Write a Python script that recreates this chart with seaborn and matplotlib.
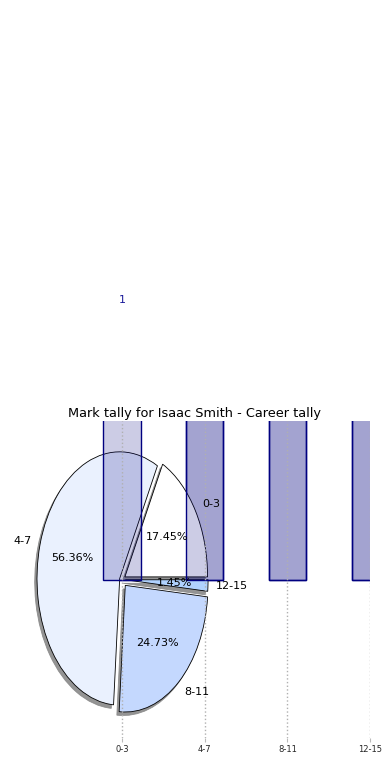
import matplotlib
matplotlib.use("Agg")
import matplotlib.pyplot as plt
import seaborn as sns

# data
intervals = ["0-3", "4-7", "8-11", "12-15"]
pie_counts = [48, 155, 68, 4]          # 17.45%, 56.36%, 24.73%, 1.45%
tally_back = [0, 155, 68, 4]           # bars drawn under the pie
tally_front = [48, 155, 68, 4]         # bars drawn over the pie
pie_colors = ["#ffffff", "#eaf1fe", "#c4d8fe", "#b0d2fe"]
pie_explode = [0.04, 0.03, 0.06, 0.04]
top_label = "1"

sns.set_style("white")
plt.rcParams["font.family"] = ["DejaVu Sans"]
plt.rcParams["text.color"] = "black"

fig = plt.figure(figsize=(3.9, 7.8), dpi=100)
ax = fig.add_axes([0.048, 0.054, 0.901, 0.406])

bar_fill = (0.0, 0.0, 0.5, 0.2)


def tally_bars(values):
    sns.barplot(x=intervals, y=values, color="navy", edgecolor="navy",
                linewidth=1.0, width=0.45, saturation=1, legend=False, ax=ax)
    # translucent fill, solid outline
    for bar in ax.containers[-1]:
        bar.set_facecolor(bar_fill)
        bar.set_edgecolor("navy")


tally_bars(tally_back)

ax.pie(pie_counts, labels=intervals, colors=pie_colors, autopct="%1.2f%%",
       explode=pie_explode, shadow={"color": "#888888", "alpha": 0.9},
       startangle=0,
       wedgeprops={"edgecolor": "black", "linewidth": 0.6},
       textprops={"fontsize": 8, "color": "black"})

tally_bars(tally_front)

ax.set_aspect("auto")
ax.set_xlim(-1.25, 3)
ax.set_ylim(-1.25, 1.25)
ax.set_xticks(range(len(intervals)))
ax.set_xticklabels(intervals, fontsize=6)
ax.set_yticks([])
ax.tick_params(axis="x", length=3, color="#bbbbbb", pad=2, bottom=True)
ax.set_frame_on(False)
ax.set_axisbelow(False)
ax.grid(axis="x", linestyle=":", color="#b0b0b0", linewidth=1.0)
if ax.get_legend() is not None:
    ax.get_legend().remove()

ax.text(0, 2.21, top_label, color="#1a1a9a", fontsize=8, ha="center",
        va="center", clip_on=False)

ax.set_title("Mark tally for Isaac Smith - Career tally", fontsize=9.3,
             color="black", pad=3)
ax.set_xlabel("Frequency", fontsize=8, labelpad=2, color="black")
ax.set_ylabel("Stat Intervals", fontsize=8, labelpad=2, color="black")

fig.savefig("out.png", dpi=100)
